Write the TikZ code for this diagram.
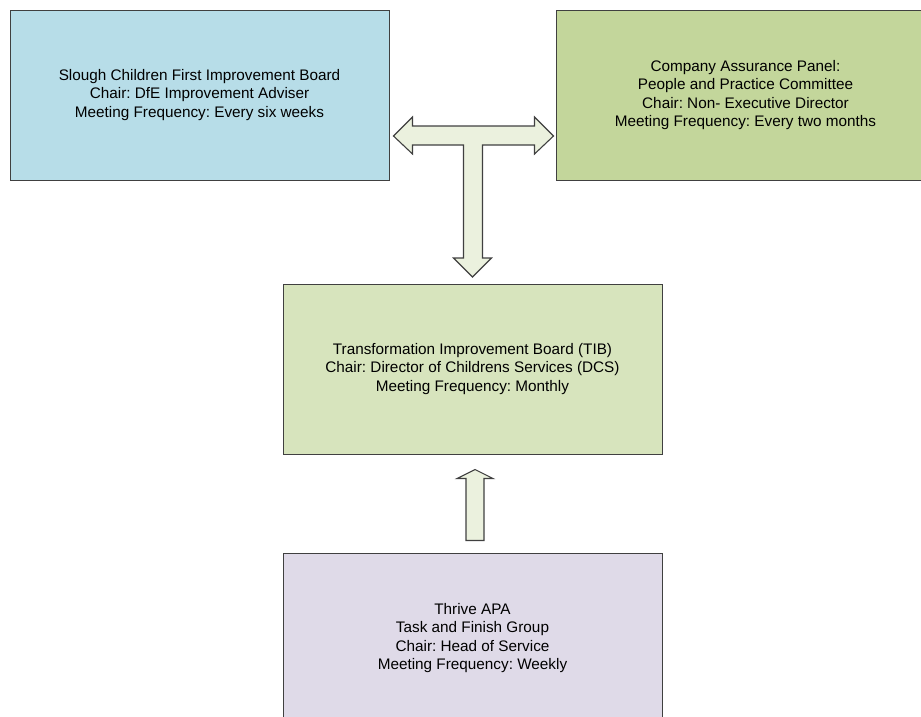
\documentclass[tikz,border=0pt]{standalone}
\usepackage{fontspec}
\setmainfont{Liberation Sans}
\usepackage{tikz}
\frenchspacing

\definecolor{boardblue}{HTML}{B7DDE8}
\definecolor{panelgreen}{HTML}{C3D69B}
\definecolor{tibgreen}{HTML}{D7E4BD}
\definecolor{thrivelilac}{HTML}{DFDAE8}
\definecolor{arrowfill}{HTML}{EBF1DE}
\definecolor{edgegrey}{HTML}{404040}

\begin{document}
\begin{tikzpicture}[x=1pt,y=-1pt,
	board/.style={draw=edgegrey,line width=1pt,minimum width=379pt,minimum height=170pt,align=center,font=\fontsize{15.3}{18.5}\selectfont},
	blockarrow/.style={draw=edgegrey,line width=1.1pt,fill=arrowfill,line join=miter}]
\useasboundingbox (0,0) rectangle (921,716);
\clip (0,0) rectangle (921,716);
\node[board,fill=boardblue] (slough) at (199.5,95) {Slough Children First Improvement Board\\Chair: DfE Improvement Adviser\\Meeting Frequency: Every six weeks};
\node[board,fill=panelgreen] (company) at (745.5,95) {Company Assurance Panel:\\People and Practice Committee\\Chair: Non- Executive Director\\Meeting Frequency: Every two months};
\node[board,fill=tibgreen] (tib) at (472.5,369) {Transformation Improvement Board (TIB)\\Chair: Director of Childrens Services (DCS)\\Meeting Frequency: Monthly};
\node[board,fill=thrivelilac] (thrive) at (472.5,638) {Thrive APA\\Task and Finish Group\\Chair: Head of Service\\Meeting Frequency: Weekly};

\coordinate (tleft) at ([xshift=4pt,yshift=-41pt]slough.east);
\coordinate (upfoot) at ([xshift=-6.5pt,yshift=12pt]thrive.north);

\draw[blockarrow] (tleft) -- ++(19,-19) -- ++(0,9) -- ++(122,0) -- ++(0,-9) -- ++(19,19) -- ++(-19,18) -- ++(0,-9) -- ++(-52,0) -- ++(0,113) -- ++(9,0) -- ++(-19,19) -- ++(-19,-19) -- ++(10,0) -- ++(0,-113) -- ++(-51,0) -- ++(0,9) -- cycle;
\draw[blockarrow] (upfoot) -- ++(18,0) -- ++(0,-62) -- ++(9,0) -- ++(-18,-9) -- ++(-18,9) -- ++(9,0) -- cycle;

\end{tikzpicture}
\end{document}
